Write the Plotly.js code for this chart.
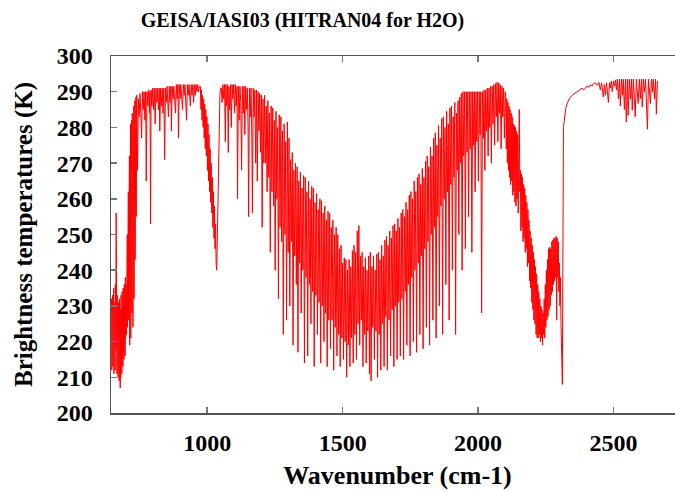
<!DOCTYPE html>
<html>
<head>
<meta charset="utf-8">
<script src="https://cdn.plot.ly/plotly-3.0.1.min.js"></script>
<style>
  html, body { margin: 0; padding: 0; overflow: hidden; background: #ffffff; }
</style>
</head>
<body>
<div id="chart"></div>
<script>
// Simulated IASI brightness-temperature spectrum, split by spectral region.

// 15 µm CO2 band
const co2BandWn = [645,646,647,648,649,650,651,652,653,654,655,656,657,658,659,660,661,662,663,664,665,666,667,668,669,670,671,672,673,674,675,676,677,678,679,680,681,682,683,684,685,686,687,688,689,690,691,692,693,694,695,696,697,698,699,700,
  701,702,703,704,705,706,707,708,709,710,711,712,713,714,715,716,717,718,719,720,721,722,723,724,725,726,727,728,729,730,731,732,733,734,735,736,737,738,739];
const co2BandBt = [228,215,232,212,226,216,233,213,229,218,235,211,227,214,231,212,236,218,230,256,214,229,211,233,216,228,210,231,213,226,209,232,212,224,207,229,210,233,214,227,211,234,216,230,213,235,217,228,215,236,219,231,216,238,221,233,
  236,222,244,226,250,224,256,232,262,226,266,240,272,219,278,236,281,221,279,248,282,228,284,252,283,224,285,258,286,232,287,265,287.5,243,288,270,288.5,255,289];

// Long-wave window
const window1Wn = [740,743,746,749,752,755,758,761,764,767,770,773,775,778,781,784,787,789,791,793,796,799,802,805,808,811,814,817,820,823,825,828,831,834,837,840,843,846,849,852,855,857,860,863,866,868,871,874,877,880,883,886,889,892,894,897,900,903,906,909,912,915,918,921,924,927,930,933,936,938,941,944,947,950,953,956,959,962,965,968,971];
const window1Bt = [289,268,288,283,289.5,284,277,290,285,290,282,290,265,290,286,290.5,284,290,253,290.5,286,291,285,291,281,291,287,291,285,291,279,291,286,291,284,291,271,291,287,291.5,285,283,291.5,287,291.5,279,291.5,288,291.5,286,284,292,288,292,277,292,288,292,287,285,292,289,292,287,282,292,289,292,288,286,292,289,292,287,292,289,292,290,292,290,291.5];

// 9.6 µm ozone band
const ozoneWn = [975,977,979,981,983,985,987,989,991,993,995,997,999,1001,1003,1005,1007,1009,1011,1013,1015,1017,1019,1021,1023,1025,1027,1029,1031,1033,1035,1037,1039,1041,1043,1045,1047,1049];
const ozoneBt = [291.5,285,290.5,282,289,280,288,277,286.5,274,285,272,283,268,281,265,278,262,274,259,270,256,266,252,262,249,258,246,253,242,240,247,258,268,277,284,289,291];

// Second window
const window2Wn = [1052,1055,1058,1061,1064,1067,1069,1072,1075,1078,1080,1083,1086,1089,1092,1095,1098,1101,1104,1107,1110,1112,1115,1118,1121,1124,1127,1130,1133,1136,1139,1142,1145,1148,1151,1153,1156,1159,1162,1165,1167,1170,1173,1176,1179,1182,1185,1188,1191,1194,1197,1200,1203,1206,1209];
const window2Bt = [291,287,292,288,292,276,292,286,292,273,291.5,285,292,280,292,288,292,284,292,286,291.5,260,291.5,282,291.5,287,268,291.5,284,291.5,278,291.5,285,291,280,255,291,283,291,276,256,291,283,290.5,270,290.5,265,290,279,289.5,273,289,252,288,270];

// 6.3 µm water-vapour band
const waterWn = [
  1212,1215,1218,1221,1224,1227,1230,1233,1236,1239,
  1242,1245,1248,1251,1254,1257,1260,1263,1266,1269,
  1272,1275,1278,1281,1284,1287,1290,1293,1296,1299,
  1302,1305,1308,1311,1314,1317,1320,1323,1326,1329,
  1332,1335,1338,1341,1344,1347,1350,1353,1356,1359,
  1362,1365,1368,1371,1374,1377,1380,1383,1386,1389,
  1392,1395,1398,1401,1404,1407,1410,1413,1416,1419,
  1422,1425,1428,1431,1434,1437,1440,1443,1446,1449,
  1452,1455,1458,1461,1464,1467,1470,1473,1476,1479,
  1482,1485,1488,1491,1494,1497,1500,1503,1506,1509,
  1512,1515,1518,1521,1524,1527,1530,1533,1536,1539,
  1542,1545,1548,1551,1554,1557,1560,1563,1566,1569,
  1572,1575,1578,1581,1584,1587,1590,1593,1596,1599,
  1602,1605,1608,1611,1614,1617,1620,1623,1626,1629,
  1632,1635,1638,1641,1644,1647,1650,1653,1656,1659,
  1662,1665,1668,1671,1674,1677,1680,1683,1686,1689,
  1692,1695,1698,1701,1704,1707,1710,1713,1716,1719,
  1722,1725,1728,1731,1734,1737,1740,1743,1746,1749,
  1752,1755,1758,1761,1764,1767,1770,1773,1776,1779,
  1782,1785,1788,1791,1794,1797,1800,1803,1806,1809,
  1812,1815,1818,1821,1824,1827,1830,1833,1836,1839,
  1842,1845,1848,1851,1854,1857,1860,1863,1866,1869,
  1872,1875,1878,1881,1884,1887,1890,1893,1896,1899,
  1902,1905,1908,1911,1914,1917,1920,1923,1926,1929,
  1932,1935,1938,1941,1944,1947,1950,1953,1956,1959,
  1962,1965,1968,1971,1974,1977,1980,1983,1986,1989,
  1992,1995,1998,2001,2004,2007,2010,2013,2016,2019,
  2022,2025,2028,2031,2034,2037,2040,2043,2046,2049,
  2052,2055,2058,2061,2064,2067,2070,2073,2076,2079,
  2082,2085,2088,2091,2094,2097,2100];
const waterBt = [
  289,270,286,262,287.5,266,284,245,286,262,
  285.5,258,282,240,284.5,260,280,232,283.5,252,
  283,248,279,222,281,250,276,226,281.5,245,
  277,230,271,248,273,219,268,244,270,236,
  269,217,265,242,267.5,228,263,240,266.5,214,
  266,238,262,216,265,236,260,225,263.5,234,
  263,213,259,233,261.5,222,257,231,260,214,
  259.5,230,256,220,258,228,254,213,256.5,226,
  256,218,252,226,254,212,250,224,252,216,
  250,222,246,213,247,221,242,215,243.5,220,
  243,210,240,219,243,213,241,221,245.5,214,
  247,222,245,215,251,225,252.5,219,244,226,
  245,213,241,222,243.5,214,240,223,244,211,
  245,209,241,224,244,215,240,223,244.5,210,
  245,222,243,212,247,225,244,213,248.5,227,
  249.5,212,247,226,251,216,249,229,252.5,213,
  253,230,251,215,254.5,231,252,216,256,232,
  257,215,255,234,259,219,257,236,261,216,
  262,238,260,220,265,240,262,217,266,242,
  267,222,264,244,268.5,218,266,246,270.5,224,
  272,248,269,219,274.5,250,272,226,277,252,
  278.5,221,275,255,280.5,230,277,258,282.5,222,
  283,260,280,236,284.5,262,281,226,285.5,264,
  286,240,283,266,287,222,284,268,287.5,250,
  288.5,270,289.5,240,290,272,290,246,290,273,
  290,255,290,274,290,245,290,275,290,262,
  290,276,290,265,290,278,290,228,290,277,
  290.5,268,290.5,279,291,272,291,280,291.5,270,
  291.5,281,292,275,292.3,283,292.6,276,292.5,284,
  292,274,291.5,283,291,277,290];

// 4.3 µm CO2 band edge
const co2EdgeWn = [
  2102,2104,2106,2108,2110,2112,2114,2116,2118,2120,
  2122,2124,2126,2128,2130,2132,2134,2136,2138,2140,
  2142,2144,2146,2148,2150,2152,2154,2156,2158,2160,
  2162,2164,2166,2168,2170,2172,2174,2176,2178,2180,
  2182,2184,2186,2188,2190,2192,2194,2196,2198,2200,
  2202,2204,2206,2208,2210,2212,2214,2216,2218,2220,
  2222,2224,2226,2228,2230,2232,2234,2236,2238,2240,
  2242,2244,2246,2248,2250,2252,2254,2256,2258,2260,
  2262,2264,2266,2268,2270,2272,2274,2276,2278,2280,
  2282,2284,2286,2288,2290,2292,2294,2296,2298,2300,
  2302,2304,2306,2308,2310,2311];
const co2EdgeBt = [
  289,274,288,270,287,268,286,266,285,264,
  284,265,283,261,281,262,280.5,259,280,258,
  279,260,278,256,277,285,262,268,251,267,
  252,266,248,264,249,263,245,261,246,259,
  241,257,242,254,237,251,235,249,231,247,
  229,245,226,243,225,241,222,239,221,236,
  221,234,222,232,220,230,221,229,219,228,
  222,232,221,236,224,240,226,243,227,246,
  229,246.5,230,246,233,248,234,248.5,236,249,
  237,249,238,249.5,226,249,238,248,234,242,
  230,238,225,219,212,208];

// Short-wave window
const shortWaveWn = [2315,2319,2324,2330,2336,2341,2347,2353,2359,2365,2372,2378,2384,2390,2396,2402,2408,2414,2420,2426,2433,2440,2446,2451,2456,2462,2466,2470,2474,2478,2481,2485,2488,2492,2495,2500,2504,2507,2511,2514,2518,2522,2525,2529,2533,2536,2540,2544,2547,2551,2554,2558,2562,2566,2569,2573,2577,2580,2584,2588,2591,2595,2599,2603,2606,2610,2614,2618,2621,2625,2629,2632,2636,2640,2644,2647,2651,2655,2658,2662];
const shortWaveBt = [280,283.5,285.5,287,288,288.5,289,289.3,289.7,290,290.3,290.6,291,290.5,291.2,291.6,291.2,292,291.5,292.3,292.5,291.8,292.6,290.5,292.5,288.5,292,289,292.5,290,287,292.5,291,293,290,293,291.5,293.3,290.5,293.5,288,293.5,286,293.5,289,293.5,285,293.5,281.5,293.5,283.4,293.5,288,293.5,284.8,293.5,287,283,293.5,289,286.7,293.5,288,293.5,285.7,293.5,290,293.5,287,279.5,293.5,289,286.7,293.5,290,293.5,288,293.5,283.7,293];

// Axis ticks
const xTickVals = [1000, 1500, 2000, 2500];
const xTickText = ['1000', '1500', '2000', '2500'];
const yTickVals = [200, 210, 220, 230, 240, 250, 260, 270, 280, 290, 300];
const yTickText = ['200', '210', '220', '230', '240', '250', '260', '270', '280', '290', '300'];

const wavenumber = [].concat(co2BandWn, window1Wn, ozoneWn, window2Wn, waterWn, co2EdgeWn, shortWaveWn);
const brightnessT = [].concat(co2BandBt, window1Bt, ozoneBt, window2Bt, waterBt, co2EdgeBt, shortWaveBt);

const serif = '"Liberation Serif", "Times New Roman", Times, serif';
const W = 700, H = 492;

const trace = {
  x: wavenumber,
  y: brightnessT,
  type: 'scatter',
  mode: 'lines',
  line: { color: '#ff0000', width: 1 },
  hoverinfo: 'skip'
};

const axisCommon = {
  ticks: 'inside',
  ticklen: 6,
  tickwidth: 1.5,
  tickcolor: '#777777',
  showline: true,
  linecolor: '#555555',
  linewidth: 1.5,
  mirror: 'ticks',
  showgrid: false,
  zeroline: false,
  tickfont: { family: serif, size: 24, weight: 700, color: '#000000' }
};

const layout = {
  width: W,
  height: H,
  margin: { l: 111, r: 16, t: 56, b: 79 },
  paper_bgcolor: '#ffffff',
  plot_bgcolor: '#ffffff',
  showlegend: false,
  title: {
    text: 'GEISA/IASI03 (HITRAN04 for H2O)',
    font: { family: serif, size: 20, weight: 700, color: '#000000' },
    xref: 'container', x: 302.5 / W, xanchor: 'center',
    yref: 'container', y: 1 - 20 / H, yanchor: 'middle'
  },
  xaxis: Object.assign({}, axisCommon, {
    range: [645, 2760],
    tickmode: 'array',
    tickvals: xTickVals,
    ticktext: xTickText,
    ticklabelstandoff: 8,
    title: { text: 'Wavenumber (cm-1)', font: { family: serif, size: 26, weight: 700, color: '#000000' }, standoff: 10 }
  }),
  yaxis: Object.assign({}, axisCommon, {
    range: [200, 300],
    tickmode: 'array',
    tickvals: yTickVals,
    ticktext: yTickText,
    ticklabelstandoff: 12,
    title: { text: 'Brightness temperatures (K)', font: { family: serif, size: 25, weight: 700, color: '#000000' }, standoff: 17 }
  })
};

Plotly.newPlot('chart', [trace], layout, { staticPlot: true, displayModeBar: false });
</script>
</body>
</html>
